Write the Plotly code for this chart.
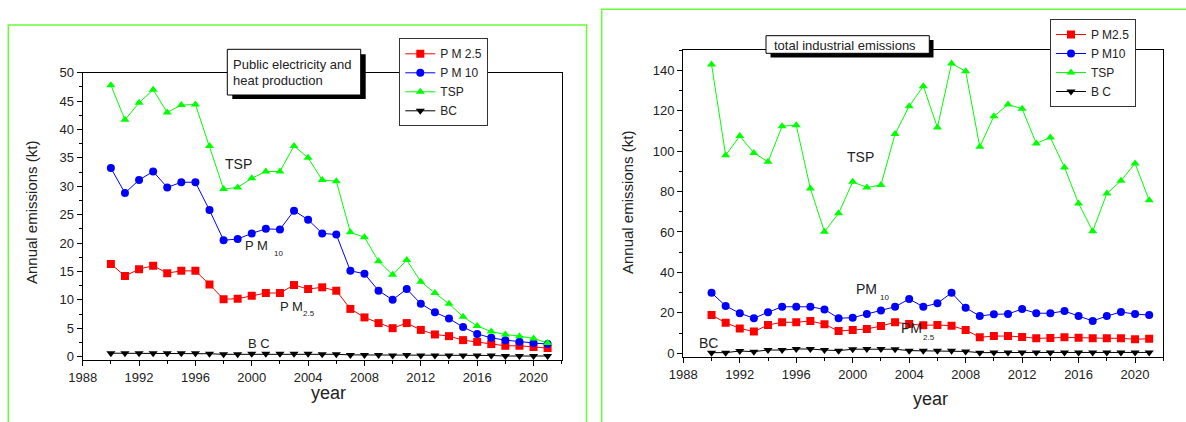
import plotly.graph_objects as go

W, H = 1186, 422

years = list(range(1990, 2022))

# Left panel: Public electricity and heat production (kt)
left_pm25 = [16.3, 14.2, 15.4, 16.0, 14.7, 15.1, 15.1, 12.7, 10.1, 10.2, 10.7, 11.2, 11.2, 12.6,
             11.9, 12.2, 11.6, 8.4, 6.9, 5.9, 5.0, 5.9, 4.7, 3.9, 3.6, 2.9, 2.6, 2.2, 1.9, 1.9, 1.7, 1.5]
left_pm10 = [33.2, 28.8, 31.1, 32.6, 29.8, 30.7, 30.7, 25.8, 20.5, 20.7, 21.7, 22.5, 22.4, 25.7,
             24.1, 21.7, 21.5, 15.1, 14.6, 11.6, 10.0, 11.9, 9.3, 7.8, 6.7, 5.2, 4.0, 3.3, 2.9, 2.6, 2.4, 2.2]
left_tsp = [47.8, 41.7, 44.7, 47.0, 43.0, 44.3, 44.4, 37.1, 29.5, 29.8, 31.4, 32.6, 32.6, 37.1,
            35.0, 31.1, 30.9, 21.9, 21.0, 16.8, 14.4, 17.0, 13.2, 11.2, 9.3, 7.0, 5.4, 4.4, 3.9, 3.6, 3.2, 2.4]
left_bc = [0.6, 0.6, 0.6, 0.6, 0.6, 0.6, 0.6, 0.5, 0.4, 0.4, 0.5, 0.5, 0.5, 0.5,
           0.5, 0.4, 0.4, 0.3, 0.3, 0.3, 0.2, 0.3, 0.2, 0.2, 0.2, 0.2, 0.2, 0.2, 0.1, 0.1, 0.1, 0.1]

# Right panel: total industrial emissions (kt)
right_pm25 = [18.9, 15.1, 12.3, 10.7, 14.0, 15.3, 15.3, 16.0, 14.3, 11.0, 11.5, 12.0, 13.5, 15.3,
              14.5, 13.8, 14.0, 13.6, 11.5, 7.9, 8.5, 8.5, 8.1, 7.4, 7.5, 7.9, 7.7, 7.4, 7.4, 7.4, 6.9, 7.2]
right_pm10 = [29.9, 23.4, 19.8, 17.3, 20.3, 23.0, 23.0, 23.0, 21.7, 17.3, 17.6, 19.4, 21.1, 23.0,
              26.8, 23.0, 24.7, 29.9, 22.5, 18.4, 19.3, 19.4, 21.9, 19.8, 19.8, 20.9, 18.4, 16.0, 18.4, 20.4, 19.4, 18.9]
right_tsp = [142.8, 98.0, 107.4, 99.1, 94.7, 112.3, 112.8, 81.5, 60.1, 69.2, 84.8, 82.0, 83.2, 108.4,
             122.2, 132.1, 111.7, 143.3, 139.5, 102.1, 117.2, 123.0, 121.0, 103.8, 106.7, 91.9, 74.1, 60.4, 79.0, 85.3, 93.9, 75.7]
right_bc = [0.3, 0.3, 1.1, 0.8, 1.6, 1.6, 2.1, 2.1, 1.6, 1.3, 2.0, 2.1, 2.1, 2.0,
            1.3, 1.2, 1.2, 1.2, 0.9, 0.3, 0.4, 0.4, 0.4, 0.4, 0.4, 0.4, 0.4, 0.4, 0.4, 0.4, 0.4, 0.4]

left_names = ["P M 2.5", "P M 10", "TSP", "BC"]
right_names = ["P M2.5", "P M10", "TSP", "B C"]
colors = ["#ff0000", "#0000ff", "#00ff00", "#000000"]
symbols = ["square", "circle", "triangle-up", "triangle-down"]

FONT = "Liberation Sans, Arial, sans-serif"
TXT = "#222222"


def px(x):
    return x / W


def py(y):
    return 1 - y / H


fig = go.Figure()

for vals, name, c, s in zip([left_pm25, left_pm10, left_tsp, left_bc], left_names, colors, symbols):
    fig.add_trace(go.Scatter(x=years, y=vals, name=name, mode="lines+markers",
                             line=dict(color=c, width=1), marker=dict(color=c, symbol=s, size=8),
                             xaxis="x", yaxis="y", legend="legend"))
for vals, name, c, s in zip([right_pm25, right_pm10, right_tsp, right_bc], right_names, colors, symbols):
    fig.add_trace(go.Scatter(x=years, y=vals, name=name, mode="lines+markers",
                             line=dict(color=c, width=1), marker=dict(color=c, symbol=s, size=8),
                             xaxis="x2", yaxis="y2", legend="legend2"))

axis_common = dict(showline=True, mirror=True, linecolor="black", linewidth=1.3, showgrid=False,
                   zeroline=False, ticks="outside", tickcolor="black", tickwidth=1, ticklen=5,
                   automargin=False,
                   tickfont=dict(family=FONT, size=13, color=TXT))

legend_style = dict(xanchor="left", yanchor="top", bgcolor="white", bordercolor="#333", borderwidth=1,
                    font=dict(family=FONT, size=12, color=TXT), itemwidth=30, tracegroupgap=0)

fig.update_layout(
    width=W, height=H, autosize=False, margin=dict(l=0, r=0, t=0, b=0, pad=0, autoexpand=False),
    paper_bgcolor="white", plot_bgcolor="rgba(0,0,0,0)",
    font=dict(family=FONT, color=TXT),
    xaxis=dict(domain=[px(82.7), px(561.7)], range=[1988, 2022], anchor="y", tick0=1988, dtick=4,
               minor=dict(ticks="outside", ticklen=3, dtick=2, tickcolor="black"), **axis_common),
    yaxis=dict(domain=[py(360), py(72.7)], range=[-0.6, 50], anchor="x", tick0=0, dtick=5,
               minor=dict(ticks="outside", ticklen=3, dtick=2.5, tickcolor="black"), **axis_common),
    xaxis2=dict(domain=[px(683.3), px(1163.3)], range=[1988, 2022], anchor="y2", tick0=1988, dtick=4,
                minor=dict(ticks="outside", ticklen=3, dtick=2, tickcolor="black"), **axis_common),
    yaxis2=dict(domain=[py(357.3), py(50)], range=[-2, 150], anchor="x2", tick0=0, dtick=20,
                minor=dict(ticks="outside", ticklen=3, dtick=10, tickcolor="black"), **axis_common),
    legend=dict(x=px(399.3), y=py(38.3), **legend_style),
    legend2=dict(x=px(1050), y=py(19), **legend_style),
    showlegend=True,
)

shapes = [
    # green outer frames
    dict(type="rect", xref="paper", yref="paper", x0=px(8.3), x1=px(586.5), y0=py(440), y1=py(25),
         line=dict(color="#66ff33", width=1.5), fillcolor="rgba(0,0,0,0)", layer="below"),
    dict(type="rect", xref="paper", yref="paper", x0=px(601.7), x1=px(1200), y0=py(440), y1=py(9.3),
         line=dict(color="#66ff33", width=1.5), fillcolor="rgba(0,0,0,0)", layer="below"),
    # title box shadows
    dict(type="rect", xref="paper", yref="paper", x0=px(232.3), x1=px(365.7), y0=py(99), y1=py(54.3),
         line=dict(width=0), fillcolor="black", layer="above"),
    dict(type="rect", xref="paper", yref="paper", x0=px(770.5), x1=px(933.5), y0=py(57.5), y1=py(40),
         line=dict(width=0), fillcolor="black", layer="above"),
    # title boxes
    dict(type="rect", xref="paper", yref="paper", x0=px(227.3), x1=px(360.7), y0=py(95), y1=py(49.3),
         line=dict(color="black", width=1), fillcolor="white", layer="above"),
    dict(type="rect", xref="paper", yref="paper", x0=px(766), x1=px(929.3), y0=py(53.3), y1=py(35.7),
         line=dict(color="black", width=1), fillcolor="white", layer="above"),
]
fig.update_layout(shapes=shapes)


def ann(x, y, text, size=13, xanchor="center", angle=0):
    return dict(x=px(x), y=py(y), xref="paper", yref="paper", text=text, showarrow=False,
                xanchor=xanchor, yanchor="middle", textangle=angle,
                font=dict(family=FONT, size=size, color=TXT))


annotations = [
    ann(230.7, 64, "Public electricity and", 13, "left"),
    ann(230.7, 80.7, "heat production", 13, "left"),
    ann(771.7, 45, "total industrial emissions", 13, "left"),
    ann(31, 213, "Annual emissions (kt)", 15, angle=-90),
    ann(627, 203, "Annual emissions (kt)", 15, angle=-90),
    ann(328, 393, "year", 18),
    ann(930, 399, "year", 18),
    # left series labels
    ann(238, 164, "TSP", 14),
    ann(256, 245, "P M", 13),
    ann(278, 253, "10", 8),
    ann(291.7, 306, "P M", 13),
    ann(309.5, 313, "2.5", 8),
    ann(259, 343, "B C", 13),
    # right series labels
    ann(860, 157, "TSP", 14),
    ann(866.5, 289, "PM", 14),
    ann(884, 297, "10", 8),
    ann(911, 328, "PM", 14),
    ann(929, 337, "2.5", 8),
    ann(709, 343, "BC", 14),
]
fig.update_layout(annotations=annotations)

fig.write_html(
    "out.html",
    config={"displayModeBar": False},
    post_script="document.body.style.margin='0';document.body.style.padding='0';"
                "document.documentElement.style.overflow='hidden';",
)
